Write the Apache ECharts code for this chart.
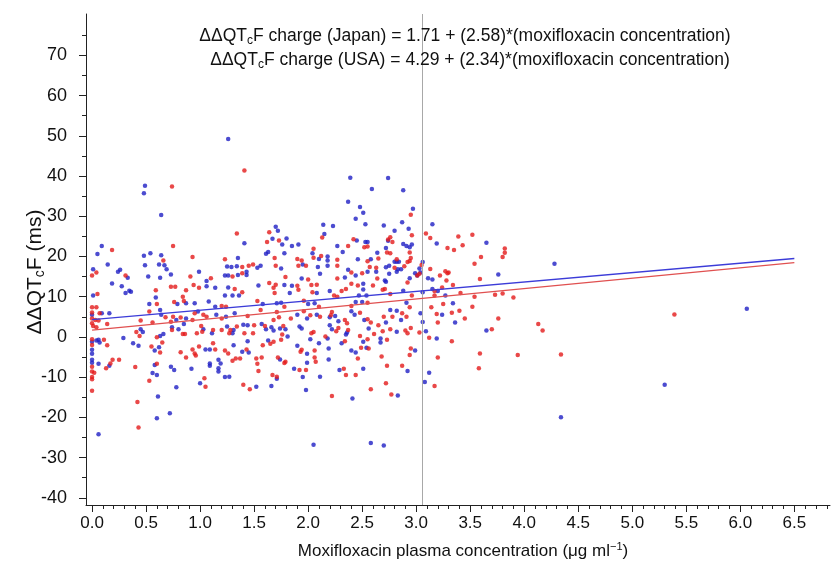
<!DOCTYPE html>
<html>
<head>
<meta charset="utf-8">
<script src="https://cdn.jsdelivr.net/npm/echarts@6/dist/echarts.min.js"></script>
<style>html,body{margin:0;padding:0;background:#fff}#c{width:832px;height:565px}</style>
</head>
<body>
<div id="c"></div>
<script>
// Japan subjects (red): [moxifloxacin conc (ug/ml), ddQTcF (ms)]
var japanPoints = [
[0.74,37.4],[0.185,21.6],[0.75,22.6],[0.66,19.0],[0.93,19.9],[0.04,16.0],[0.0,15.3],[0.31,15.3],[0.91,15.0],[1.10,14.6],[1.23,19.3],[0.05,10.7],[0.59,11.6],[0.73,12.5],[0.77,12.5],[0.87,11.6],[0.94,12.9],[0.99,12.2],[0.84,10.0],
[1.41,41.4],[2.13,24.7],[1.34,25.7],[1.64,26.0],[1.62,23.6],[1.73,24.0],[2.05,21.9],[2.37,22.6],[2.42,24.3],[2.52,22.3],[2.55,22.5],[1.69,19.6],[1.90,19.4],[1.94,19.0],[2.05,19.7],[2.12,20.1],[2.27,19.2],[2.55,18.8],[2.57,17.4],[2.40,16.0],[2.50,15.8],[1.39,17.4],[1.45,17.7],[1.49,18.0],[1.70,17.7],[1.91,17.7],[1.98,17.7],[2.27,17.7],[1.30,15.0],[1.39,15.8],[1.79,14.9],[2.00,14.3],[2.27,14.5],[2.40,13.2],[2.46,12.8],[2.60,12.8],[1.64,13.4],[1.68,12.2],[1.70,13.0],[1.32,11.9],[1.39,11.1],[1.69,10.9],[1.90,12.7],[2.03,12.9],[2.08,13.0],[1.91,11.7],[2.04,11.1],[2.24,10.3],[2.31,11.4],[2.35,11.9],[2.27,10.0],
[2.95,30.4],[2.96,25.3],[3.09,25.7],[3.13,24.6],[3.39,25.0],[3.52,25.4],[3.43,22.8],[3.29,22.1],[3.35,21.6],[3.82,22.0],[3.82,20.9],[3.80,19.9],[3.60,19.9],[3.54,18.2],[2.76,24.8],[2.74,24.2],[2.78,23.6],[2.73,21.0],[2.76,20.8],[2.65,19.5],[2.94,21.0],[2.95,19.6],[2.94,18.9],[2.92,18.6],[2.89,17.6],[2.82,19.3],[2.80,17.2],[2.63,17.2],[2.64,14.5],[3.05,17.9],[3.03,15.7],[3.01,15.3],[2.92,13.5],[3.13,16.9],[3.22,15.3],[3.27,16.3],[3.29,15.8],[3.30,16.0],[3.28,14.0],[3.34,12.9],[3.59,14.4],[3.17,11.4],[3.24,12.3],[3.17,10.3],[3.41,10.9],[3.54,10.0],[3.73,10.5],[3.80,10.8],[3.90,9.8],[2.76,10.7],[2.96,10.3],[2.71,11.9],[2.69,11.7],
[0.60,8.2],[0.76,8.7],[0.85,8.9],[1.20,7.7],[1.24,7.5],[0.0,7.4],[0.04,7.4],[0.0,6.1],[0.07,5.9],[0.0,4.6],[0.03,4.2],[0.06,4.1],[0.0,3.4],[0.01,2.7],[0.04,2.4],[0.14,3.2],[0.53,6.3],[0.68,4.9],[0.75,5.0],[0.45,4.1],[0.56,3.6],[0.73,3.8],[0.82,4.8],[0.95,5.9],[0.93,4.2],[1.03,5.5],[1.06,5.0],[1.20,4.6],[1.01,2.7],[1.02,1.3],[0.97,0.9],[0.84,0.7],[0.86,0.7],[0.74,1.7],[0.60,-0.1],[0.41,1.2],[0.44,0.2],[1.12,1.7],[1.20,1.7],[1.28,1.7],[0.65,-1.4],[0.55,-2.4],[0.63,-3.9],[0.0,-0.6],[0.11,-0.7],[0.14,-2.1],[0.0,-2.0],[0.0,-7.4],[0.0,-8.6],[0.02,-8.9],[0.0,-10.0],[0.0,-10.5],[0.0,-13.4],[0.19,-5.7],[0.17,-6.6],[0.25,-5.7],[0.13,-7.8],[0.40,-7.5],[0.60,-6.7],[0.53,-10.9],[0.42,-16.2],[0.43,-22.5],[0.82,-3.8],[0.87,-5.1],[0.93,-3.1],[0.95,-4.1],[0.96,-4.6],[0.99,-2.4],[1.12,-1.6],[1.14,-3.1],[1.23,-3.4],[1.26,-4.1],[1.04,-10.3],[1.05,-12.4],[1.27,0.9],
[1.34,2.6],[1.50,2.9],[1.41,0.9],[1.49,0.9],[1.60,2.7],[1.68,4.2],[1.73,4.9],[1.77,2.7],[1.76,0.6],[1.75,-0.7],[1.65,-1.7],[1.68,-1.2],[1.58,-2.1],[1.43,-3.1],[1.30,-5.9],[1.33,-5.4],[1.37,-5.4],[1.52,-5.4],[1.57,-5.1],[1.53,-6.7],[1.54,-8.5],[1.72,-5.1],[1.79,-6.2],[1.78,-6.5],[1.67,-9.5],[1.71,-9.9],[1.40,-11.9],[1.46,-13.0],[1.92,-8.2],[1.98,-8.2],[2.07,-6.2],[2.06,-5.1],[2.06,-3.4],[1.93,-3.7],[1.94,-3.2],[2.05,1.2],[2.03,0.9],[1.84,4.6],[1.96,6.4],[2.11,5.0],[2.21,5.4],[2.16,0.1],[2.26,1.4],[2.28,2.2],[2.34,4.2],[2.36,3.4],[2.34,-1.1],[2.37,1.7],[2.48,6.0],[2.55,4.4],[2.58,3.6],[2.48,0.2],[2.55,-0.6],[2.61,0.7],[2.49,-2.7],[2.56,-2.9],[2.46,-5.4],[2.33,-7.9],[2.35,-9.5],[2.44,-9.5],[2.22,-14.7],[2.58,-13.0],[2.02,5.4],[2.10,7.5],[1.96,9.0],[1.78,7.5],[1.71,6.2],[1.56,6.7],[1.53,8.9],[1.44,5.2],[2.22,6.2],[2.40,7.7],[2.55,8.5],
[3.14,7.4],[3.25,8.2],[3.52,7.5],[3.19,5.7],[3.33,6.0],[3.40,6.5],[3.45,4.6],[3.76,4.6],[3.20,3.6],[3.12,-0.2],[3.33,-1.1],[3.70,1.9],[3.59,-4.1],[3.94,-4.5],[3.20,-5.1],[3.58,-7.8],[3.17,-12.2],[3.03,1.1],[2.95,2.2],[2.92,0.9],[2.90,1.6],[2.76,1.9],[2.69,1.4],[2.65,2.9],[2.91,5.0],[2.87,5.9],[2.78,5.0],[2.70,5.0],[2.94,7.4],[2.73,-0.7],[2.95,-2.9],[2.94,-4.5],[2.68,-4.9],[2.73,-7.2],[2.87,-7.2],[2.72,-11.5],[2.77,-14.3],
[4.13,3.2],[4.17,1.6],[4.34,-4.4],[5.39,5.6]
];
// USA subjects (blue)
var usaPoints = [
[1.26,49.2],[0.49,37.6],[0.48,35.7],[0.64,30.3],[0.09,22.6],[0.05,20.6],[0.48,20.2],[0.54,20.8],[0.64,20.3],[0.49,17.8],[0.62,18.0],[0.67,17.8],[0.69,16.8],[0.145,18.0],[0.01,16.8],[0.24,16.2],[0.26,16.7],[0.33,14.7],[0.52,15.0],[0.63,14.7],[0.73,15.5],[0.99,16.2],[1.06,13.9],[1.25,17.5],[1.23,15.3],[1.26,15.3],[0.185,13.3],[0.275,12.6],[0.345,11.5],[0.36,11.2],[0.31,10.9],[0.01,10.3],[1.06,12.6],[1.14,12.2],[1.26,12.3],[1.23,10.3],[0.59,9.8],
[2.39,39.6],[2.59,36.8],[2.37,33.6],[2.48,32.3],[2.51,30.9],[2.44,29.4],[2.53,28.0],[2.14,27.9],[2.23,27.6],[2.15,25.6],[1.41,23.3],[1.70,27.4],[1.72,26.4],[1.67,24.4],[1.80,24.5],[1.76,23.0],[1.85,22.6],[1.91,23.0],[2.04,20.8],[2.27,22.6],[2.45,24.0],[2.53,23.6],[2.55,23.6],[2.32,21.1],[1.63,21.1],[1.61,20.7],[1.78,20.8],[1.35,19.6],[2.10,19.4],[2.18,20.0],[2.18,19.0],[2.46,19.3],[2.58,19.3],[2.37,16.7],[2.44,15.3],[2.55,16.2],[1.29,17.4],[1.34,17.6],[1.53,17.2],[1.56,17.7],[1.75,17.0],[1.95,18.0],[2.09,17.4],[2.18,17.7],[1.35,15.4],[1.43,16.2],[1.43,15.4],[1.94,14.5],[2.11,15.7],[2.34,14.8],[2.51,13.2],[1.54,12.8],[1.78,12.9],[1.36,10.3],[1.30,10.3],[1.85,12.7],[1.83,10.9],[2.08,10.9],[2.20,11.4],[2.51,11.8],[2.54,10.3],[2.47,10.3],
[2.74,39.5],[2.88,36.5],[2.97,31.9],[2.70,27.7],[2.87,28.5],[2.80,26.4],[2.93,26.9],[3.15,28.0],[3.19,23.2],[3.65,23.4],[2.74,23.9],[2.88,23.1],[2.91,22.6],[2.94,22.3],[2.96,23.0],[2.72,22.1],[2.64,20.9],[2.80,18.7],[2.82,18.7],[2.84,18.7],[2.72,17.3],[2.75,17.7],[2.83,16.8],[2.82,16.2],[2.86,16.8],[2.63,16.2],[2.71,14.0],[2.72,13.7],[2.99,15.8],[3.03,17.0],[3.04,16.0],[3.06,18.6],[3.01,15.3],[2.94,14.6],[3.11,14.6],[3.15,14.3],[3.76,15.5],[3.15,11.9],[3.20,11.4],[3.06,11.1],[3.27,10.3],[2.88,11.5],[2.75,15.7],
[0.53,8.2],[0.79,8.2],[0.87,8.4],[0.95,8.4],[1.08,8.8],[1.14,7.5],[0.0,5.5],[0.09,5.9],[0.16,5.9],[0.63,6.7],[0.64,5.5],[0.78,4.2],[0.87,4.6],[0.85,3.2],[0.98,6.3],[1.15,5.5],[1.24,5.0],[1.03,1.9],[0.80,1.9],[0.74,2.4],[0.66,0.7],[0.63,0.2],[0.45,1.9],[0.47,1.2],[0.29,-0.3],[1.11,0.9],[1.25,2.6],[0.38,-1.6],[0.43,-2.2],[0.62,-2.6],[0.58,-3.4],[0.0,-1.2],[0.04,-0.9],[0.06,-0.7],[0.07,-1.4],[0.0,-3.2],[0.0,-4.2],[0.0,-5.7],[0.0,-6.4],[0.06,-6.7],[0.16,-7.2],[0.58,-7.0],[0.56,-9.0],[0.60,-9.5],[0.78,-12.5],[0.61,-14.8],[0.72,-19.0],[0.60,-20.2],[0.06,-24.2],[0.73,-7.4],[0.76,-8.2],[0.92,-7.9],[1.05,-3.1],[1.09,-3.1],[1.17,-5.7],[1.19,-6.6],[1.09,-6.6],[1.09,-7.2],[1.17,-7.8],[1.17,-8.6],[1.23,-10.0],[1.27,-9.9],[1.00,-11.5],
[1.40,3.0],[1.44,2.9],[1.31,1.7],[1.30,0.9],[1.57,3.2],[1.61,1.9],[1.66,2.4],[1.68,1.6],[1.74,2.1],[1.79,1.9],[1.81,0.1],[1.63,-0.9],[1.44,-1.1],[1.31,-2.1],[1.39,-3.7],[1.45,-3.9],[1.74,-5.6],[1.71,-10.4],[1.52,-12.4],[1.66,-12.2],[1.87,-7.9],[1.95,-10.0],[1.98,-13.2],[2.11,-9.9],[1.99,-6.4],[1.99,-4.2],[1.90,-2.2],[2.19,-2.9],[2.19,-5.6],[2.02,-0.6],[1.92,2.6],[1.94,2.1],[1.90,5.5],[1.99,4.6],[2.08,5.5],[2.20,4.9],[2.20,2.9],[2.22,1.9],[2.18,-0.4],[2.28,3.9],[2.35,0.6],[2.31,-1.6],[2.36,1.1],[2.40,6.4],[2.43,5.5],[2.52,4.2],[2.51,-1.2],[2.56,2.1],[2.54,-2.7],[2.40,-3.4],[2.44,-3.9],[2.51,-7.9],[2.29,-8.2],[2.41,-15.3],[2.10,-1.6],[2.05,-26.8],[2.58,-26.4],[2.06,8.4],[2.00,8.2],[1.75,8.5],[1.58,8.2],[1.32,5.9],[2.25,5.2],[2.44,8.7],[2.50,8.7],[1.71,8.4],
[3.34,8.4],[3.24,5.5],[3.36,3.6],[3.04,5.9],[3.06,3.7],[3.09,1.4],[3.19,-0.4],[3.65,1.6],[3.12,-8.9],[3.08,-11.2],[2.82,1.3],[2.72,3.6],[2.86,4.2],[2.82,6.5],[2.76,6.7],[2.91,8.5],[2.67,-0.4],[2.67,-1.4],[2.99,-3.4],[2.92,-8.5],[2.83,-14.6],[2.70,-27.0],
[4.28,18.2],[6.06,7.0],[5.30,-11.9],[4.34,-20.0]
];
// Regression lines (end points from the printed equations)
var japanLine = [[0, 1.71], [6.5, 18.48]];
var usaLine = [[0, 4.29], [6.5, 19.50]];
var referenceConc = 3.06;
// Tick labels
var xTicks = [0, 0.5, 1, 1.5, 2, 2.5, 3, 3.5, 4, 4.5, 5, 5.5, 6, 6.5];
var xMinorTicks = [0,0.1,0.2,0.3,0.4,0.5,0.6,0.7,0.8,0.9,1,1.1,1.2,1.3,1.4,1.5,1.6,1.7,1.8,1.9,2,2.1,2.2,2.3,2.4,2.5,2.6,2.7,2.8,2.9,3,3.1,3.2,3.3,3.4,3.5,3.6,3.7,3.8,3.9,4,4.1,4.2,4.3,4.4,4.5,4.6,4.7,4.8,4.9,5,5.1,5.2,5.3,5.4,5.5,5.6,5.7,5.8,5.9,6,6.1,6.2,6.3,6.4,6.5,6.6,6.7,6.8];
var yTicks = [-40, -30, -20, -10, 0, 10, 20, 30, 40, 50, 60, 70];
var yMinorTicks = [-40, -35, -30, -25, -20, -15, -10, -5, 0, 5, 10, 15, 20, 25, 30, 35, 40, 45, 50, 55, 60, 65, 70, 75];

var FONT = '"Liberation Sans", Arial, sans-serif';
var chart = echarts.init(document.getElementById('c'), null, {renderer: 'canvas'});
var axisColor = '#222';
function richText(sizeMain, sizeSub, pad) {
  return {t: {fontSize: sizeMain, fontFamily: FONT, fill: '#111'},
          s: {fontSize: sizeSub, fontFamily: FONT, fill: '#111', padding: [pad, 0, 0, 0]},
          sup: {fontSize: sizeSub, fontFamily: FONT, fill: '#111', padding: [0, 0, pad, 0]}};
}
chart.setOption({
  animation: false,
  backgroundColor: '#fff',
  grid: {left: 86, right: 2, top: 14, bottom: 60, containLabel: false},
  xAxis: [{
    type: 'value', min: -0.056, max: 6.83, position: 'bottom',
    axisLine: {show: true, onZero: false, lineStyle: {color: axisColor, width: 1}},
    axisTick: {show: true, customValues: xTicks, length: 7, lineStyle: {color: axisColor}},
    axisLabel: {customValues: xTicks, margin: 10, color: '#111', fontSize: 17, fontFamily: FONT,
      formatter: function (v) { return v.toFixed(1); }},
    splitLine: {show: false}
  }, {
    type: 'value', min: -0.056, max: 6.83, position: 'bottom', gridIndex: 0,
    axisLine: {show: false, onZero: false},
    axisTick: {show: true, customValues: xMinorTicks, length: 4, lineStyle: {color: axisColor}},
    axisLabel: {show: false}, splitLine: {show: false}
  }],
  yAxis: [{
    type: 'value', min: -41.8, max: 80.3, position: 'left',
    axisLine: {show: true, onZero: false, lineStyle: {color: axisColor, width: 1}},
    axisTick: {show: true, customValues: yTicks, length: 7, lineStyle: {color: axisColor}},
    axisLabel: {customValues: yTicks, margin: 19, color: '#111', fontSize: 18, fontFamily: FONT},
    splitLine: {show: false}
  }, {
    type: 'value', min: -41.8, max: 80.3, position: 'left', gridIndex: 0,
    axisLine: {show: false, onZero: false},
    axisTick: {show: true, customValues: yMinorTicks, length: 4, lineStyle: {color: axisColor}},
    axisLabel: {show: false}, splitLine: {show: false}
  }],
  graphic: [{
    type: 'text', x: 465, y: 36, z: 100,
    style: {
      text: '{t|ΔΔQT}{s|c}{t|F charge (Japan) = 1.71 + (2.58)*(moxifloxacin concentration)}',
      align: 'center', verticalAlign: 'middle', rich: richText(17.5, 12, 9)
    }
  }, {
    type: 'text', x: 470, y: 60, z: 100,
    style: {
      text: '{t|ΔΔQT}{s|c}{t|F charge (USA) = 4.29 + (2.34)*(moxifloxacin concentration)}',
      align: 'center', verticalAlign: 'middle', rich: richText(17.5, 12, 9)
    }
  }, {
    type: 'text', x: 35, y: 272, rotation: Math.PI / 2, z: 100,
    style: {
      text: '{t|ΔΔQT}{s|c}{t|F (ms)}',
      align: 'center', verticalAlign: 'middle', rich: richText(21, 14, 10)
    }
  }, {
    type: 'text', x: 463, y: 551, z: 100,
    style: {
      text: '{t|Moxifloxacin plasma concentration (μg ml}{sup|−1}{t|)}',
      align: 'center', verticalAlign: 'middle', rich: richText(17, 11, 8)
    }
  }],
  series: [{
    name: 'USA', type: 'scatter', data: usaPoints, symbol: 'circle', symbolSize: 4.5,
    itemStyle: {color: '#1f1fc4'}, z: 2,
    markLine: {silent: true, symbol: 'none', label: {show: false},
      lineStyle: {color: '#a8a8a8', width: 1, type: 'solid'},
      data: [{xAxis: referenceConc}]}
  }, {
    name: 'Japan', type: 'scatter', data: japanPoints, symbol: 'circle', symbolSize: 4.5,
    itemStyle: {color: '#e41a1a'}, z: 2
  }, {
    name: 'USA fit', type: 'line', data: usaLine, showSymbol: false, z: 5,
    lineStyle: {color: '#3c3cd8', width: 1.3}
  }, {
    name: 'Japan fit', type: 'line', data: japanLine, showSymbol: false, z: 5,
    lineStyle: {color: '#e05050', width: 1.3}
  }]
});
</script>
</body>
</html>
